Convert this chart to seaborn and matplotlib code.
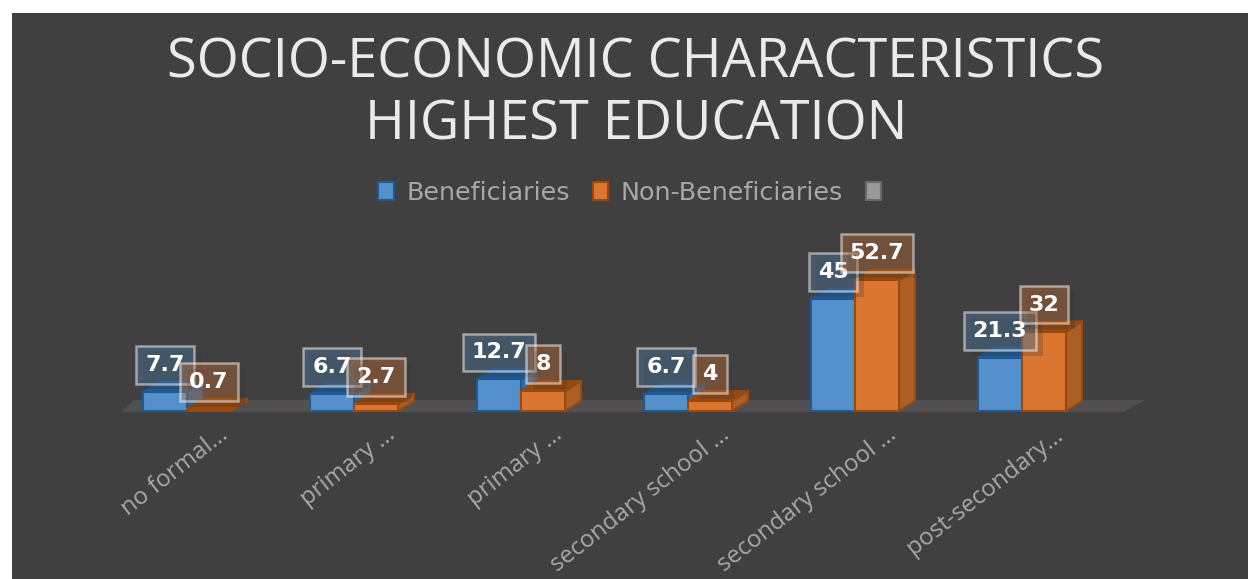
import matplotlib
matplotlib.use('Agg')
import matplotlib.pyplot as plt
import matplotlib.patheffects as pe
from matplotlib.patches import Polygon, Rectangle, Patch
from matplotlib.transforms import ScaledTranslation
import seaborn as sns
import pandas as pd

categories = ['no formal...', 'primary ...', 'primary ...', 'secondary school ...',
              'secondary school ...', 'post-secondary...']
# category slots have to stay unique because two pairs share a label
slots = ['a', 'b', 'c', 'd', 'e', 'f']
beneficiaries = [7.7, 6.7, 12.7, 6.7, 45, 21.3]
non_beneficiaries = [0.7, 2.7, 8, 4, 52.7, 32]
title = 'SOCIO-ECONOMIC CHARACTERISTICS\nHIGHEST EDUCATION'

BG = '#404040'
BLUE, BLUE_EDGE, BLUE_SIDE = '#5491CB', '#1F5A94', '#2F6CA8'
ORANGE, ORANGE_EDGE, ORANGE_SIDE = '#DB7630', '#97490F', '#AC5F25'
W, H = 1248, 579
DEPTH_X, DEPTH_Y = 16, 10

df = pd.DataFrame({
    'slot': slots * 2,
    'value': beneficiaries + non_beneficiaries,
    'group': ['Beneficiaries'] * 6 + ['Non-Beneficiaries'] * 6,
})

sns.set_theme(style='dark')
fig = plt.figure(figsize=(W / 100, H / 100), dpi=100, facecolor='white')
fig.patches.append(Rectangle((12 / W, 0), 1, 1 - 13 / H, transform=fig.transFigure,
                             facecolor=BG, edgecolor='none', zorder=-5))
ax = fig.add_axes([103.5 / W, (H - 411) / H, 1002 / W, 149 / H])
ax.patch.set_alpha(0)
sns.barplot(data=df, x='slot', y='value', hue='group', palette=[BLUE, ORANGE], width=0.527,
            saturation=1, linewidth=1.5, legend=False, ax=ax)
ax.set_xlim(-0.5, 5.5)
ax.set_ylim(0, 60)
ax.set_xlabel('')
ax.set_ylabel('')
ax.set_yticks([])
ax.grid(False)
sns.despine(ax=ax, left=True, bottom=True)

# floor of the fake 3D box, hung on the axis ends
x0 = ax.transAxes.transform((0, 0))
x1 = ax.transAxes.transform((1, 0))
floor = Polygon([(x0[0] + 18, x0[1] - 1), (x0[0] + 30, x0[1] + 11), (x1[0] + 40, x1[1] + 11), (x1[0] + 18, x1[1] - 1)],
                closed=True, transform=None, facecolor='#514F4F', edgecolor='none', zorder=0.5, clip_on=False)
ax.add_artist(floor)

styles = [(BLUE_EDGE, BLUE_SIDE, 2), (ORANGE_EDGE, ORANGE_SIDE, 3)]
box_faces = [(0.33, 0.57, 0.80, 0.3), (0.93, 0.49, 0.19, 0.3)]
for c, (edge, side, z), box_face in zip(ax.containers, styles, box_faces):
    for bar in c:
        (l, b), (r, t) = ax.transData.transform([(bar.get_x(), 0), (bar.get_x() + bar.get_width(), bar.get_height())])
        ax.add_artist(Polygon([(r, b), (r + DEPTH_X, b + DEPTH_Y), (r + DEPTH_X, t + DEPTH_Y), (r, t)],
                              transform=None, facecolor=side, edgecolor=edge, lw=1.5, zorder=z, clip_on=False))
        ax.add_artist(Polygon([(l, t), (l + DEPTH_X, t + DEPTH_Y), (r + DEPTH_X, t + DEPTH_Y), (r, t)],
                              transform=None, facecolor=edge, edgecolor=edge, lw=1.5, zorder=z, clip_on=False))
        bar.set_edgecolor(edge)
        bar.set_zorder(z + 0.1)
        bar.set_clip_on(False)
        value = bar.get_height()
        txt = ax.annotate(f'{value:g}', (bar.get_x() + bar.get_width() / 2, value), xytext=(0, 27 * 0.72),
                          textcoords='offset points', ha='center', va='center', color='white',
                          fontsize=16, fontweight='bold', family='DejaVu Sans', zorder=6, annotation_clip=False,
                          bbox=dict(boxstyle='square,pad=0.4', facecolor=box_face,
                                    edgecolor=(1, 1, 1, 0.5), linewidth=1.8))
        txt.get_bbox_patch().set_path_effects([
            pe.SimplePatchShadow(offset=(5, -4), shadow_rgbFace='#363636', alpha=0.25), pe.Normal()])

ax.set_xticks(range(len(categories)))
ax.set_xticklabels(categories, rotation=38, ha='right', va='top', rotation_mode='anchor',
                   color='#A8A8A8', fontsize=17.3, family='Open Sans')
ax.tick_params(axis='x', length=0, pad=0)
offset = ScaledTranslation(31 / 100, -12 / 100, fig.dpi_scale_trans)
for lab in ax.get_xticklabels():
    lab.set_transform(lab.get_transform() + offset)

fig.text(636 / W, 1 - 94 / H, title, ha='center', va='center', color='#EAEAEA', fontsize=39,
         family='Open Sans', linespacing=1.15)

handles = [Patch(facecolor=BLUE, edgecolor=BLUE_EDGE, lw=1.5, label='Beneficiaries'),
           Patch(facecolor=ORANGE, edgecolor=ORANGE_EDGE, lw=1.5, label='Non-Beneficiaries'),
           Patch(facecolor='#999999', edgecolor='#6A6A6A', lw=1.5, label=' ')]
leg = fig.legend(handles=handles, ncol=3, loc='center', bbox_to_anchor=(640 / W, 1 - 193 / H), frameon=False,
                 labelcolor='#A8A8A8', handlelength=0.6, handleheight=0.7, handletextpad=0.5,
                 columnspacing=0.9, prop={'family': 'DejaVu Sans', 'size': 18.3})

fig.savefig('out.png', dpi=100, facecolor='white')
